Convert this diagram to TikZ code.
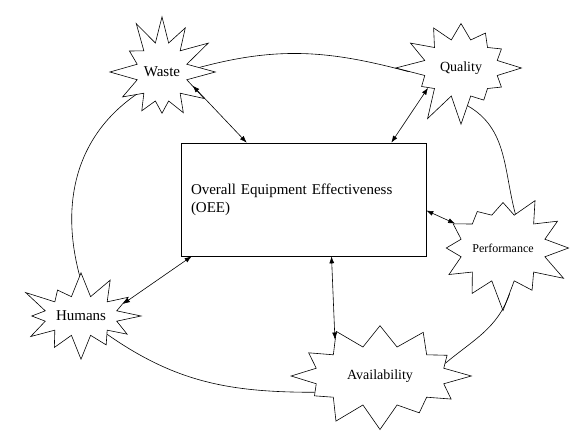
\documentclass[tikz,border=0pt]{standalone}
\usepackage{fontspec}
\setmainfont{Liberation Serif}
\usetikzlibrary{shapes.symbols}
\usetikzlibrary{arrows.meta}

\begin{document}
\begin{tikzpicture}[x=1pt,y=-1pt,>/.tip={Latex[length=7pt,width=5pt]},line width=0.6pt,
	burst/.style={draw,shape=starburst,starburst points=12,starburst point height=30pt,inner sep=0pt}]
	\useasboundingbox (0,0) rectangle (574,434);
	\draw (303.5,199.5) node (oee) [draw,rectangle,minimum width=245pt,minimum height=113pt,text width=225pt,align=left,font=\fontsize{15}{18}\selectfont] {Overall Equipment Effectiveness\\(OEE)};
	\draw (162,72) node (waste) [burst,random starburst=4,minimum width=106pt,minimum height=120pt,font=\fontsize{15}{18}\selectfont] {Waste};
	\draw (461,68) node (quality) [burst,random starburst=12,minimum width=135pt,minimum height=118pt,font=\fontsize{14}{17}\selectfont] {Quality};
	\draw (503,248) node (perf) [burst,random starburst=6,minimum width=145pt,minimum height=128pt,font=\fontsize{12}{14}\selectfont] {Performance};
	\draw (380,376) node (avail) [burst,random starburst=8,minimum width=192pt,minimum height=120pt,font=\fontsize{14}{17}\selectfont] {Availability};
	\draw (81,316) node (humans) [burst,random starburst=1,minimum width=134pt,minimum height=100pt,font=\fontsize{15}{18}\selectfont] {Humans};
	% ring round the box
	\draw (waste.7) to[out=15,in=165] (quality.184);
	\draw (quality.-80) to[out=-30,in=105] (perf.70);
	\draw (perf.-82) to[out=-110,in=40] (avail.11);
	\draw (avail.194) to[out=180,in=-35] (humans.-35);
	\draw (humans.92) to[out=105,in=-145] (waste.-139);
	% links to the box
	\path[<->] (waste.-24) edge ([xshift=66pt]oee.north west);
	\path[<->] (quality.211) edge ([xshift=-35pt]oee.north east);
	\path[<->] ([yshift=-11pt]oee.east) edge (perf.153);
	\path[<->] (humans.16) edge ([xshift=11pt]oee.south west);
	\path[<->] (avail.141) edge ([xshift=28pt]oee.south);
\end{tikzpicture}
\end{document}
